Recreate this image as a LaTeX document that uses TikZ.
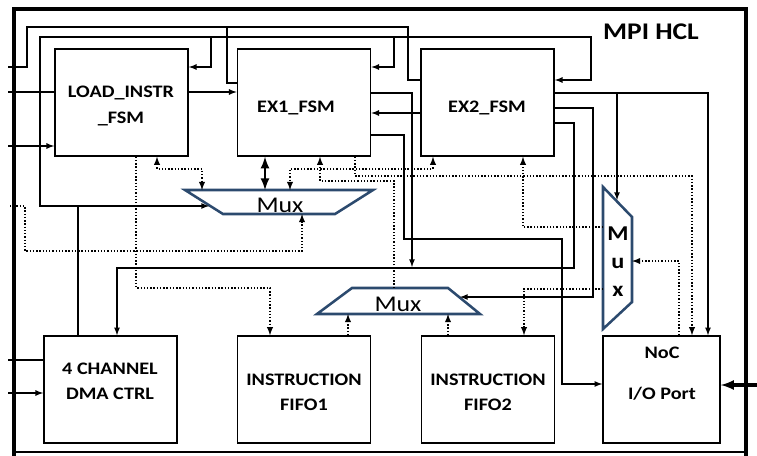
\documentclass[tikz,border=0pt]{standalone}
\usepackage{fontspec}
\setmainfont{Carlito}[FakeStretch=1.15]
\usepackage{xcolor}
\usepackage{tikz}
\definecolor{muxblue}{RGB}{44,74,110}
\tikzset{
	fsm/.style={draw, line width=1pt, minimum width=3.33cm, minimum height=2.675cm},
	boxtext/.style={anchor=center, align=center, font=\bfseries\fontsize{12.5}{18}\selectfont},
	muxbody/.style={inner sep=0pt, outer sep=0pt},
	muxline/.style={draw=muxblue, line width=1.8pt},
	muxtext/.style={anchor=center, align=center, font=\fontsize{16}{18}\selectfont},
	sig/.style={line width=1pt, dash pattern=on 1pt off 1.3pt},
}

\begin{document}
\begin{tikzpicture}[x=0.025cm, y=-0.025cm, line width=0.9pt]
	\useasboundingbox (0,0) rectangle (757,455);
	% Outer block and title:
	\node[draw, line width=1.5pt, minimum width=18.25cm, minimum height=11.05cm] (hcl) at (380,231){};
	\draw[line width=3.2pt, shorten <=-3pt, shorten >=-3pt] (hcl.south west) -- (hcl.north west) -- (hcl.north east) -- (hcl.south east);
	\node[font=\bfseries\fontsize{17}{20}\selectfont] (title) at (651,32){MPI HCL};
	% Blocks:
	\node[fsm] (load) at (121.5,102.5){} node[boxtext] (loadtext) at (121,106){LOAD\_INSTR\\\_FSM};
	\node[fsm] (exone) at (304,102.5){} node[boxtext] (exonetext) at (296,108){EX1\_FSM};
	\node[fsm] (extwo) at (487.5,102.5){} node[boxtext] (extwotext) at (487,108){EX2\_FSM};
	\node[fsm] (dma) at (110.5,389.5){} node[boxtext] (dmatext) at (110,381){4 CHANNEL\\DMA CTRL};
	\node[fsm] (fifoone) at (304,389.5){} node[boxtext] (fifoonetext) at (304,392){INSTRUCTION\\FIFO1};
	\node[fsm] (fifotwo) at (488,389.5){} node[boxtext] (fifotwotext) at (488,392){INSTRUCTION\\FIFO2};
	\node[fsm, minimum width=2.925cm] (noc) at (661.5,389.5){} node[boxtext] (noctext) at (662,374){NoC\\[11pt]I/O Port};
	% Multiplexers:
	\node[muxbody, minimum width=4.7cm, minimum height=0.6cm] (muxa) at (279,202){};
	\draw[muxline] (muxa.north west) -- (muxa.north east) -- ([xshift=-0.95cm]muxa.south east) -- ([xshift=0.95cm]muxa.south west) -- cycle;
	\node[muxtext] (muxatext) at (280,205){Mux};
	\node[muxbody, minimum width=4.075cm, minimum height=0.65cm] (muxb) at (398.5,301){};
	\draw[muxline] ([xshift=0.875cm]muxb.north west) -- ([xshift=-0.8cm]muxb.north east) -- (muxb.south east) -- (muxb.south west) -- cycle;
	\node[muxtext] (muxbtext) at (398,304){Mux};
	\node[muxbody, minimum width=0.725cm, minimum height=3.55cm] (muxc) at (617.5,258){};
	\draw[muxline] (muxc.north west) -- ([yshift=-0.75cm]muxc.north east) -- ([yshift=0.675cm]muxc.south east) -- (muxc.south west) -- cycle;
	\node[muxtext, font=\bfseries\fontsize{15}{20}\selectfont] (muxctext) at (618,262){M\\u\\x};
	% Free ends:
	\coordinate (intop) at (8,67);
	\coordinate (inmid) at (8,92);
	\coordinate (inlow) at (8,146);
	\coordinate (inmux) at (10,206);
	\coordinate (indmaone) at (8,360);
	\coordinate (indmatwo) at (8,393);
	\coordinate (innoc) at (757,385);
	\coordinate (muxaside) at (209,206);
	\coordinate (muxbside) at (460,297);
	\coordinate (muxctop) at (617,200);
	\coordinate (dmabus) at (412,267);
	% Solid wires:
	\draw (intop) -| (27,27) -| (408,80) -- (extwo.west |- 0,80);
	\draw (227,27) |- (exone.west |- 0,83);
	\draw (inmid) -- (load.west |- inmid);
	\draw[-latex] (inlow) -- (load.west |- inlow);
	\draw[-latex] (load.east |- 0,92) -- (exone.west |- 0,92);
	\draw[-latex] (dma.north -| 78,0) -- (78,206) -- (muxaside);
	\draw[-latex] (78,206) -| (40,37) -| (591,80) -- (extwo.east |- 0,80);
	\draw[-latex] (211,37) |- (load.east |- 0,67);
	\draw[-latex] (394,37) |- (exone.east |- 0,67);
	\draw[-latex] (extwo.west |- 0,113) -- (exone.east |- 0,113);
	\draw[-latex] (exone.east |- 0,93) -| (dmabus);
	\draw[-latex] (extwo.east |- 0,123) -| (574,268) -| (117,0 |- dma.north);
	\draw[-latex] (exone.east |- 0,135) -| (404,239) -| (562,384) -- (noc.west |- 0,384);
	\draw[-latex] (extwo.east |- 0,93) -| (708,0 |- noc.north);
	\draw[-latex] (617,93) -- (muxctop);
	\draw[-latex] (extwo.east |- 0,108) -| (593,297) -- (muxbside);
	\draw (indmaone) -- (dma.west |- indmaone);
	\draw[-latex] (indmatwo) -- (dma.west |- indmatwo);
	\draw[line width=1.8pt, latex-latex] (265,0 |- exone.south) -- (265,0 |- muxa.north);
	\draw[line width=2.2pt, -latex] (innoc) -- (noc.east |- innoc);
	% Dotted wires:
	\draw[sig, -latex] (136,0 |- load.south) |- (270,288) -- (270,0 |- fifoone.north);
	\draw[sig, latex-latex] (157,0 |- load.south) |- (202,169) -- (202,0 |- muxa.north);
	\draw[sig, -latex] (394,0 |- muxb.north) |- (320,181) -- (320,0 |- exone.south);
	\draw[sig, latex-latex] (433,0 |- extwo.south) |- (290,169) -- (290,0 |- muxa.north);
	\draw[sig, -latex] (355,0 |- exone.south) |- (692,176) -- (692,0 |- noc.north);
	\draw[sig, -latex] (muxc.west |- 0,227) -| (523,0 |- extwo.south);
	\draw[sig, -latex] (679,0 |- noc.north) |- (muxc.east |- 0,261);
	\draw[sig, -latex] (muxc.west |- 0,289) -| (524,0 |- fifotwo.north);
	\draw[sig, -latex] (348,0 |- fifoone.north) -- (348,0 |- muxb.south);
	\draw[sig, -latex] (448,0 |- fifotwo.north) -- (448,0 |- muxb.south);
	\draw[sig, -latex] (inmux) -| (25,251) -| (302,0 |- muxa.south);
\end{tikzpicture}
\end{document}
